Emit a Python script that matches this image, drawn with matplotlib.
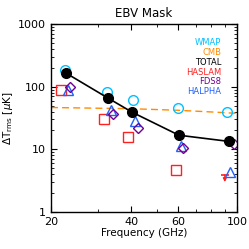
import matplotlib
matplotlib.use("Agg")
import matplotlib.pyplot as plt
from matplotlib.ticker import FixedLocator, FixedFormatter, NullFormatter, LogLocator

# measured data (GHz, uK)
freq_total = [22.7, 32.7, 40.4, 60.5, 93.0]
total = [166, 66, 39, 16.8, 13.4]
total_err = [8, 4, 3, 2.5, 1.8]

freq_wmap = [22.6, 32.6, 40.8, 60.2, 91.5]
wmap = [182, 83, 61, 46, 39]

freq_haslam = [21.9, 31.6, 39.1, 59.0]
haslam = [90, 30.7, 15.8, 4.6]
haslam_lim_freq = 90.0
haslam_lim = 3.9
haslam_lim_tip = 3.0

freq_halpha = [23.1, 33.5, 41.4, 61.6, 94.5]
halpha = [88, 42, 28, 11.3, 4.3]

freq_fds = [23.6, 34.3, 42.6, 62.8, 97.5]
fds = [100, 37, 22, 10.6, 12.3]

cmb_freq = [20, 40, 60, 80, 100]
cmb = [46.5, 44.5, 42, 39.5, 37.5]

legend_names = ["WMAP", "CMB", "TOTAL", "HASLAM", "FDS8", "HALPHA"]
legend_colors = ["#00c0ff", "#ff8c00", "black", "#ff2020", "#700090", "#2060ff"]

fig = plt.figure(figsize=(2.49, 2.49), dpi=100)
ax = fig.add_axes([51 / 249, 37 / 249, 186 / 249, 188 / 249])

ax.plot(cmb_freq, cmb, "--", color="#ff8c00", lw=1.0, dashes=(5, 3))
ax.plot(freq_wmap, wmap, "o", mfc="none", mec="#00c0ff", ms=7, mew=1.0)
ax.plot(freq_haslam, haslam, "s", mfc="none", mec="#ff2020", ms=6.5, mew=1.0)
# upper limit: bar with arrow pointing down
ax.plot([haslam_lim_freq], [haslam_lim], "_", color="#ff2020", ms=6, mew=1.2)
ax.annotate("", xy=(haslam_lim_freq, haslam_lim_tip), xytext=(haslam_lim_freq, haslam_lim),
            arrowprops=dict(arrowstyle="-|>", color="#ff2020", lw=1.0,
                            mutation_scale=5, shrinkA=0, shrinkB=0))
ax.plot(freq_halpha, halpha, "^", mfc="none", mec="#2060ff", ms=6.5, mew=1.0)
ax.plot(freq_fds, fds, "D", mfc="none", mec="#700090", ms=5, mew=1.0)
ax.errorbar(freq_total, total, yerr=total_err, fmt="o-", color="black",
            ms=7, lw=1.2, elinewidth=1.2, capsize=0)

ax.set_xscale("log")
ax.set_yscale("log")
ax.set_xlim(20, 100)
ax.set_ylim(1, 1000)

ax.xaxis.set_major_locator(FixedLocator([20, 40, 60, 100]))
ax.xaxis.set_minor_locator(FixedLocator([30, 50, 70, 80, 90]))
ax.xaxis.set_major_formatter(FixedFormatter(["20", "40", "60", "100"]))
ax.xaxis.set_minor_formatter(NullFormatter())
ax.yaxis.set_major_locator(FixedLocator([1, 10, 100, 1000]))
ax.yaxis.set_major_formatter(FixedFormatter(["1", "10", "100", "1000"]))
ax.yaxis.set_minor_locator(LogLocator(base=10, subs=range(2, 10)))
ax.yaxis.set_minor_formatter(NullFormatter())

ax.tick_params(which="both", direction="in", top=True, right=True, labelsize=8)
ax.tick_params(which="major", length=4, width=0.8)
ax.tick_params(which="minor", length=2, width=0.6)
for s in ax.spines.values():
    s.set_linewidth(1.0)

ax.set_title("EBV Mask", fontsize=8.5, pad=5)
ax.set_xlabel("Frequency (GHz)", fontsize=7.5, labelpad=1)
ax.set_ylabel(r"$\Delta$T$_{\rm rms}$ [$\mu$K]", fontsize=7.5, labelpad=2)

for i, (name, c) in enumerate(zip(legend_names, legend_colors)):
    ax.text(0.915, 0.9 - i * 0.052, name, color=c, fontsize=6,
            ha="right", va="center", transform=ax.transAxes)

fig.savefig("out.png", dpi=100)
